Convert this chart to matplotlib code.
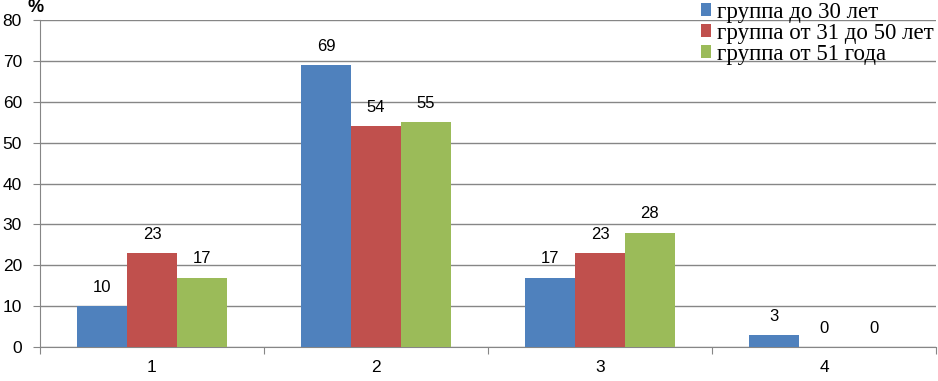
import matplotlib.pyplot as plt
import numpy as np

# данные с диаграммы
categories = ['1', '2', '3', '4']
series_names = ['группа до 30 лет', 'группа от 31 до 50 лет', 'группа от 51 года']
group_young = [10, 69, 17, 3]
group_middle = [23, 54, 23, 0]
group_old = [17, 55, 28, 0]
y_ticks = [0, 10, 20, 30, 40, 50, 60, 70, 80]

colors = ['#4F81BD', '#C0504D', '#9BBB59']
series = [group_young, group_middle, group_old]

fig = plt.figure(figsize=(9.38, 3.81), dpi=100)
ax = fig.add_axes([0.0426, 0.0892, 0.9554, 0.8583])

x = np.arange(len(categories))
w = 1 / 4.5
for i, (vals, col, name) in enumerate(zip(series, colors, series_names)):
    pos = x + (i - 1) * w
    ax.bar(pos, vals, width=w, color=col, label=name, zorder=3)
    for p, v in zip(pos, vals):
        ax.annotate(str(v), (p, v), xytext=(0, 8), textcoords='offset points',
                    ha='center', va='bottom', fontsize=12, family='Liberation Sans')

ax.set_xlim(-0.5, len(categories) - 0.5)
ax.set_ylim(0, 80)
ax.set_yticks(y_ticks)
ax.set_yticklabels([str(t) for t in y_ticks], family='Liberation Sans', fontsize=12.5)
ax.yaxis.grid(True, color='#868686', linewidth=1, zorder=0)
ax.tick_params(axis='y', length=5, color='#868686', pad=8)

# подписи категорий по центру, засечки между группами
ax.set_xticks(np.arange(-0.5, len(categories)), minor=False)
ax.set_xticklabels([])
ax.set_xticks(x, minor=True)
ax.set_xticklabels(categories, minor=True, family='Liberation Sans', fontsize=12.5)
ax.tick_params(axis='x', which='major', length=5, color='#868686')
ax.tick_params(axis='x', which='minor', length=0, pad=9)

for s in ['top', 'right']:
    ax.spines[s].set_visible(False)
for s in ['left', 'bottom']:
    ax.spines[s].set_color('#868686')

ax.text(-0.52, 81.0, '%', fontsize=13, fontweight='bold', family='Liberation Sans',
        ha='center', va='bottom')

leg = ax.legend(loc='upper right', bbox_to_anchor=(0.997, 1.056), frameon=False,
                prop={'family': 'Liberation Serif', 'size': 16.5},
                handlelength=0.45, handleheight=0.45, handletextpad=0.25,
                labelspacing=0.0, borderpad=0.0, borderaxespad=0.0)
leg.set_zorder(5)

fig.savefig('out.png', dpi=100)
